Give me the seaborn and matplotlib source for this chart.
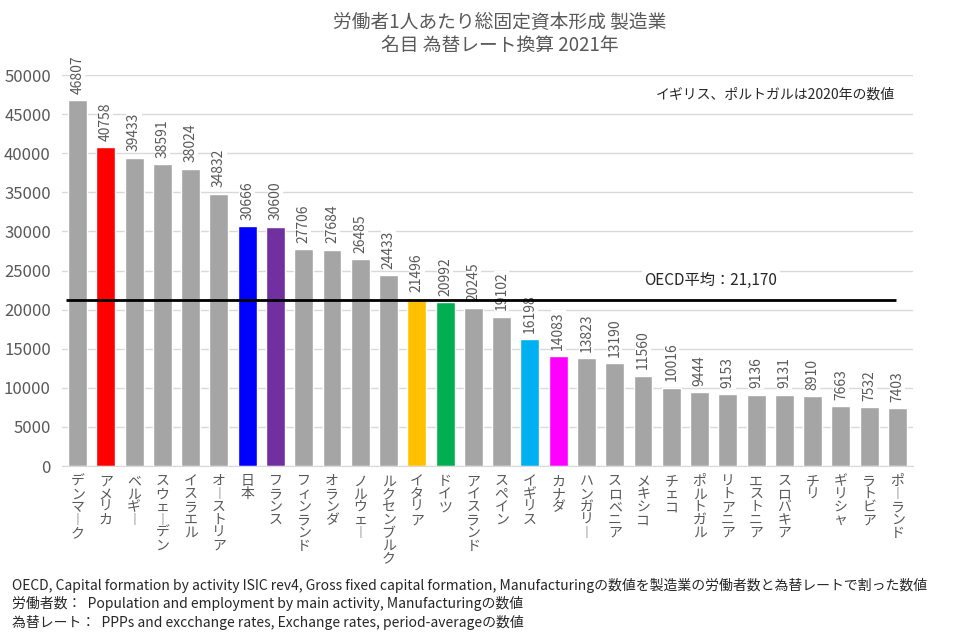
import numpy as np
import pandas as pd
import seaborn as sns
import matplotlib.pyplot as plt

countries = ["デンマーク", "アメリカ", "ベルギー", "スウェーデン", "イスラエル", "オーストリア",
             "日本", "フランス", "フィンランド", "オランダ", "ノルウェー", "ルクセンブルク",
             "イタリア", "ドイツ", "アイスランド", "スペイン", "イギリス", "カナダ",
             "ハンガリー", "スロベニア", "メキシコ", "チェコ", "ポルトガル", "リトアニア",
             "エストニア", "スロバキア", "チリ", "ギリシャ", "ラトビア", "ポーランド"]
values = [46807, 40758, 39433, 38591, 38024, 34832, 30666, 30600, 27706, 27684, 26485, 24433,
          21496, 20992, 20245, 19102, 16198, 14083, 13823, 13190, 11560, 10016, 9444, 9153,
          9136, 9131, 8910, 7663, 7532, 7403]
highlight = {"アメリカ": "#FF0000", "日本": "#0000FF", "フランス": "#7030A0",
             "イタリア": "#FFC000", "ドイツ": "#00B050", "イギリス": "#00B0F0",
             "カナダ": "#FF00FF"}
oecd_avg = 21170

df = pd.DataFrame({"country": countries, "value": values})
palette = {c: highlight.get(c, "#A5A5A5") for c in countries}

sns.set_style("white")
plt.rcParams['font.family'] = ['Noto Sans CJK JP', 'DejaVu Sans']

fig = plt.figure(figsize=(9.76, 6.37), dpi=100)
ax = fig.add_axes([0.0635, 0.2684, 0.872, 0.6138])

sns.barplot(data=df, x="country", y="value", hue="country", palette=palette,
            legend=False, width=0.67, saturation=1, ax=ax, zorder=2)

n = len(countries)
ax.set_ylim(0, 50000)
ax.set_xlim(-0.55, n - 0.45)
ax.set_yticks(np.arange(0, 50001, 5000))
ax.yaxis.grid(True, color="#D9D9D9", linewidth=1, zorder=0)
ax.set_axisbelow(True)
for s in ["top", "right", "left"]:
    ax.spines[s].set_visible(False)
ax.spines["bottom"].set_color("#D9D9D9")
ax.tick_params(axis="y", length=4, color="#D9D9D9", labelsize=12, labelcolor="#595959", pad=4)
ax.tick_params(axis="x", length=0, pad=6)
ax.set_xlabel("")
ax.set_ylabel("")

# vertical japanese tick labels: stack characters
def vert(s):
    return "\n".join("︱" if ch == "ー" else ch for ch in s)

ax.set_xticks(range(n))
ax.set_xticklabels([vert(c) for c in countries], fontsize=10, color="#595959",
                   linespacing=0.9, va="top", rotation=0)

for i, v in enumerate(values):
    ax.text(i, v + 800, str(v), rotation=90, ha="center", va="bottom", fontsize=10,
            color="#595959", zorder=3, clip_on=False,
            bbox=dict(facecolor="white", edgecolor="none", pad=0.5))

ax.hlines(oecd_avg, -0.42, n - 1.06, color="black", linewidth=2, zorder=4)
ax.text(22.4, oecd_avg + 2600, "OECD平均：21,170", ha="center", va="center", fontsize=11,
        color="#262626", zorder=3, bbox=dict(facecolor="white", edgecolor="none", pad=2))
ax.text(0.979, 0.949, "イギリス、ポルトガルは2020年の数値", transform=ax.transAxes,
        ha="right", va="center", fontsize=10, color="#262626", zorder=3,
        bbox=dict(facecolor="white", edgecolor="none", pad=3))

fig.text(0.512, 0.965, "労働者1人あたり総固定資本形成 製造業", ha="center", va="center",
         fontsize=13.5, color="#595959")
fig.text(0.512, 0.928, "名目 為替レート換算 2021年", ha="center", va="center",
         fontsize=13.5, color="#595959")

notes = ["OECD, Capital formation by activity ISIC rev4, Gross fixed capital formation, Manufacturingの数値を製造業の労働者数と為替レートで割った数値",
         "労働者数：  Population and employment by main activity, Manufacturingの数値",
         "為替レート：  PPPs and excchange rates, Exchange rates, period-averageの数値"]
for k, t in enumerate(notes):
    fig.text(0.012, 0.081 - k * 0.029, t, ha="left", va="center", fontsize=10, color="#262626")

fig.savefig("out.png", dpi=100)
